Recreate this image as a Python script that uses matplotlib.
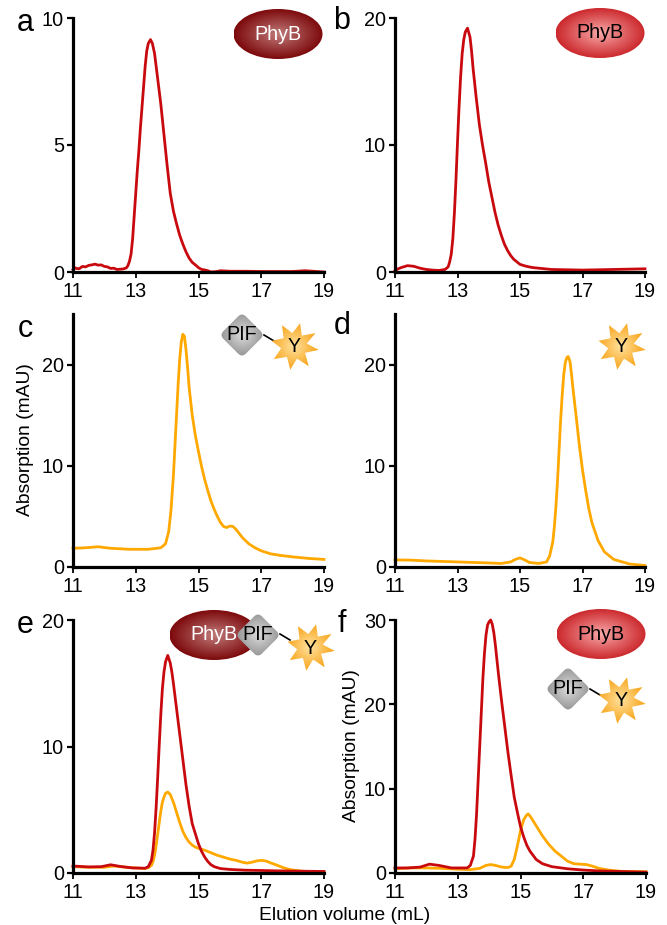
import numpy as np
import matplotlib
matplotlib.use("Agg")
import matplotlib.pyplot as plt
from matplotlib.colors import LinearSegmentedColormap
from matplotlib.patches import Ellipse, Polygon, PathPatch
from matplotlib.path import Path

plt.rcParams['font.family'] = ['Liberation Sans', 'DejaVu Sans']

W, H = 667, 925
RED = '#c80a0f'
ORANGE = '#ffa800'

# panel a
a_x = [11, 11.05, 11.1, 11.2, 11.3, 11.4, 11.5, 11.6, 11.7, 11.8, 11.9, 12.0, 12.1, 12.2, 12.3, 12.4, 12.5, 12.6, 12.7, 12.75, 12.8, 12.85, 12.9, 12.95, 13.0, 13.05, 13.1, 13.15, 13.2, 13.25, 13.3, 13.35, 13.4, 13.47, 13.53, 13.6, 13.65, 13.7, 13.8, 13.9, 14.0, 14.1, 14.2, 14.3, 14.4, 14.5, 14.6, 14.7, 14.8, 14.9, 15.0, 15.1, 15.2, 15.3, 15.4, 15.6, 15.7, 16, 16.5, 17, 17.5, 18, 18.4, 19]
a_y = [0.1, 0.18, 0.14, 0.13, 0.22, 0.2, 0.26, 0.28, 0.31, 0.27, 0.28, 0.22, 0.2, 0.14, 0.15, 0.1, 0.11, 0.12, 0.16, 0.25, 0.42, 0.7, 1.3, 2.2, 3.1, 4.0, 4.8, 5.7, 6.5, 7.3, 8.1, 8.7, 9.0, 9.15, 9.0, 8.6, 8.1, 7.6, 6.6, 5.4, 4.2, 3.1, 2.4, 1.9, 1.45, 1.1, 0.8, 0.55, 0.38, 0.28, 0.17, 0.1, 0.08, 0.05, 0.0, 0.02, 0.05, 0.03, 0.03, 0.02, 0.02, 0.02, 0.05, 0.0]

# panel b
b_x = [11, 11.1, 11.2, 11.4, 11.6, 11.8, 12, 12.2, 12.4, 12.6, 12.7, 12.75, 12.8, 12.85, 12.9, 12.95, 13.0, 13.05, 13.1, 13.15, 13.2, 13.25, 13.32, 13.4, 13.45, 13.5, 13.6, 13.7, 13.8, 13.9, 14.0, 14.1, 14.2, 14.3, 14.4, 14.5, 14.6, 14.7, 14.8, 15.0, 15.2, 15.4, 15.6, 16, 17, 18, 19]
b_y = [0.1, 0.25, 0.35, 0.5, 0.45, 0.3, 0.2, 0.15, 0.12, 0.2, 0.4, 0.8, 1.4, 2.6, 4.6, 7.2, 10.2, 13, 15.4, 17.2, 18.3, 18.9, 19.2, 18.5, 17.4, 16, 13.7, 11.6, 10, 8.6, 7.1, 5.9, 4.7, 3.7, 2.9, 2.2, 1.7, 1.3, 1.0, 0.6, 0.45, 0.35, 0.3, 0.2, 0.15, 0.2, 0.25]

# panel c
c_x = [11, 11.4, 11.8, 12.2, 12.8, 13.4, 13.8, 13.95, 14.05, 14.12, 14.2, 14.25, 14.3, 14.35, 14.4, 14.45, 14.5, 14.55, 14.6, 14.65, 14.7, 14.8, 14.9, 15.0, 15.1, 15.2, 15.3, 15.4, 15.5, 15.6, 15.7, 15.8, 15.9, 16.0, 16.1, 16.2, 16.3, 16.4, 16.6, 16.8, 17.0, 17.3, 17.6, 18, 18.5, 19]
c_y = [1.85, 1.9, 2.0, 1.85, 1.75, 1.75, 1.9, 2.3, 3.5, 5.5, 9, 12, 15, 18, 20.5, 22.2, 23, 22.8, 21.5, 19.8, 17.8, 15, 13, 11.4, 9.9, 8.6, 7.5, 6.5, 5.7, 5.0, 4.4, 4.0, 3.9, 4.05, 4.0, 3.7, 3.3, 2.9, 2.3, 1.9, 1.6, 1.3, 1.15, 1.0, 0.85, 0.75]

# panel d
d_x = [11, 11.5, 12, 12.5, 13, 13.5, 14, 14.4, 14.7, 14.85, 15.0, 15.15, 15.3, 15.6, 15.85, 15.95, 16.05, 16.1, 16.15, 16.2, 16.25, 16.3, 16.35, 16.4, 16.45, 16.5, 16.54, 16.6, 16.65, 16.7, 16.8, 16.9, 17.0, 17.1, 17.2, 17.3, 17.5, 17.7, 18, 18.5, 19]
d_y = [0.7, 0.68, 0.6, 0.55, 0.5, 0.45, 0.4, 0.35, 0.5, 0.75, 0.9, 0.7, 0.45, 0.35, 0.5, 1.1, 2.5, 4, 6, 8.5, 11.5, 14.5, 17, 19, 20.2, 20.7, 20.8, 20.3, 19, 17.5, 14.8, 12, 9.6, 7.6, 5.8, 4.4, 2.6, 1.5, 0.75, 0.3, 0.15]

# panel e
e_red_x = [11, 11.5, 11.9, 12.2, 12.5, 12.9, 13.3, 13.4, 13.5, 13.55, 13.6, 13.65, 13.7, 13.75, 13.8, 13.85, 13.9, 13.95, 14.02, 14.1, 14.15, 14.2, 14.3, 14.4, 14.5, 14.6, 14.7, 14.8, 14.9, 15, 15.1, 15.2, 15.3, 15.4, 15.5, 15.7, 16, 16.5, 17, 17.5, 18, 19]
e_red_y = [0.55, 0.48, 0.5, 0.65, 0.52, 0.4, 0.38, 0.5, 1.0, 1.8, 3.2, 5.2, 7.6, 10.2, 12.6, 14.6, 15.9, 16.7, 17.2, 16.6, 15.9, 15, 13, 11, 9, 7, 5.3, 3.9, 3.1, 2.3, 1.7, 1.25, 0.9, 0.65, 0.5, 0.35, 0.28, 0.22, 0.2, 0.17, 0.15, 0.12]
e_or_x = [11, 11.5, 12, 12.3, 12.7, 13.3, 13.4, 13.5, 13.55, 13.6, 13.65, 13.7, 13.75, 13.8, 13.85, 13.9, 13.95, 14.02, 14.1, 14.2, 14.3, 14.4, 14.5, 14.6, 14.7, 14.8, 14.9, 15.0, 15.2, 15.4, 15.6, 15.8, 16.0, 16.2, 16.4, 16.55, 16.7, 16.85, 17.0, 17.15, 17.3, 17.5, 17.7, 17.9, 18.1, 18.4, 19]
e_or_y = [0.5, 0.45, 0.45, 0.55, 0.45, 0.35, 0.42, 0.6, 0.9, 1.4, 2.2, 3.1, 4.0, 4.9, 5.6, 6.0, 6.3, 6.4, 6.2, 5.6, 4.8, 4.0, 3.3, 2.8, 2.45, 2.2, 2.05, 1.95, 1.8, 1.6, 1.4, 1.25, 1.1, 1.0, 0.85, 0.78, 0.85, 0.95, 1.0, 0.95, 0.8, 0.62, 0.42, 0.28, 0.2, 0.12, 0.08]

# panel f
f_red_x = [11, 11.4, 11.8, 12.1, 12.4, 12.8, 13.3, 13.4, 13.5, 13.55, 13.6, 13.65, 13.7, 13.75, 13.8, 13.85, 13.9, 13.95, 14.0, 14.05, 14.1, 14.15, 14.2, 14.3, 14.4, 14.5, 14.6, 14.7, 14.8, 14.9, 15.0, 15.1, 15.2, 15.3, 15.5, 15.7, 16, 16.5, 17, 17.5, 18, 19]
f_red_y = [0.6, 0.6, 0.7, 1.05, 0.9, 0.6, 0.6, 0.9, 2.0, 4, 7, 11, 15, 19, 23, 26, 28.2, 29.4, 29.8, 30, 29.5, 28.5, 27, 23.5, 20.3, 17.3, 14.3, 11.6, 9, 7.2, 5.5, 4.3, 3.3, 2.6, 1.6, 1.1, 0.75, 0.5, 0.35, 0.25, 0.2, 0.1]
f_or_x = [11, 11.5, 12, 12.5, 13, 13.4, 13.7, 13.9, 14.05, 14.2, 14.4, 14.6, 14.7, 14.8, 14.9, 15.0, 15.1, 15.2, 15.25, 15.35, 15.5, 15.7, 15.9, 16.1, 16.3, 16.5, 16.7, 16.9, 17.1, 17.3, 17.5, 17.8, 18.2, 19]
f_or_y = [0.5, 0.6, 0.6, 0.55, 0.45, 0.4, 0.55, 0.9, 1.0, 0.9, 0.7, 0.65, 0.8, 1.6, 3.2, 5.0, 6.3, 6.9, 7.0, 6.5, 5.6, 4.4, 3.4, 2.6, 2.0, 1.4, 1.1, 1.05, 1.0, 0.8, 0.55, 0.35, 0.2, 0.15]

x_ticks = [11, 13, 15, 17, 19]

fig = plt.figure(figsize=(W / 100, H / 100), dpi=100)


def make_ax(left, right, top, bottom, ymax, yticks):
    ax = fig.add_axes([left / W, 1 - bottom / H, (right - left) / W, (bottom - top) / H])
    ax.set_xlim(11, 19)
    ax.set_ylim(0, ymax)
    ax.set_xticks(x_ticks)
    ax.set_yticks(yticks)
    ax.spines['top'].set_visible(False)
    ax.spines['right'].set_visible(False)
    ax.spines['left'].set_linewidth(2.3)
    ax.spines['bottom'].set_linewidth(2.3)
    ax.tick_params(axis='y', length=4.5, width=1.6, labelsize=14.3, pad=2)
    ax.tick_params(axis='x', length=4, width=1.3, labelsize=14.3, pad=3)
    ax.patch.set_alpha(0)
    return ax


def curve(ax, x, y, color):
    ax.plot(x, y, color=color, lw=2.0, clip_on=False, solid_joinstyle='round')


ax_a = make_ax(73, 324, 18, 272, 10, [0, 5, 10])
curve(ax_a, a_x, a_y, RED)
ax_b = make_ax(395, 645, 18, 272, 20, [0, 10, 20])
curve(ax_b, b_x, b_y, RED)
ax_c = make_ax(73, 324, 314, 567, 25, [0, 10, 20])
curve(ax_c, c_x, c_y, ORANGE)
ax_d = make_ax(395, 645, 314, 567, 25, [0, 10, 20])
curve(ax_d, d_x, d_y, ORANGE)
ax_e = make_ax(73, 324, 620, 873, 20, [0, 10, 20])
curve(ax_e, e_or_x, e_or_y, ORANGE)
curve(ax_e, e_red_x, e_red_y, RED)
ax_f = make_ax(395, 646, 620, 873, 30, [0, 10, 20, 30])
curve(ax_f, f_or_x, f_or_y, ORANGE)
curve(ax_f, f_red_x, f_red_y, RED)


def px_text(x, y, s, **kw):
    fig.text(x / W, 1 - y / H, s, ha='center', va='center', **kw)


for letter, lx, ly in [('a', 25, 23), ('b', 342, 21), ('c', 25, 329), ('d', 342, 326), ('e', 25, 625), ('f', 342, 624)]:
    px_text(lx, ly, letter, fontsize=22)

px_text(26, 440, 'Absorption (mAU)', fontsize=13.9, rotation=90)
px_text(351, 746, 'Absorption (mAU)', fontsize=13.9, rotation=90)
px_text(345, 915, 'Elution volume (mL)', fontsize=13.9)

# schematics drawn over everything, in pixel coordinates
ov = fig.add_axes([0, 0, 1, 1], zorder=10)
ov.set_xlim(0, W)
ov.set_ylim(H, 0)
ov.axis('off')

grid_y, grid_x = np.mgrid[-1:1:120j, -1:1:120j]
radial = np.sqrt(grid_x ** 2 + grid_y ** 2)


def fill_gradient(patch, cx, cy, rx, ry, inner, outer, zorder):
    cmap = LinearSegmentedColormap.from_list('g', [inner, outer])
    ov.add_patch(patch)
    patch.set_zorder(zorder)
    im = ov.imshow(radial, cmap=cmap, vmin=0, vmax=1, extent=(cx - rx, cx + rx, cy + ry, cy - ry),
                   aspect='auto', zorder=zorder, interpolation='bilinear')
    im.set_clip_path(patch)


def phyb(cx, cy, dark):
    inner, outer, col = ('#c07a7a', '#7d0a0c', 'white') if dark else ('#f8a8a8', '#cc2a2e', 'black')
    fill_gradient(Ellipse((cx, cy), 89, 50, fc='none', ec='none'), cx, cy, 44.5, 25, inner, outer, 11)
    ov.text(cx, cy, 'PhyB', color=col, ha='center', va='center', fontsize=14.2, zorder=12)


def pif(cx, cy):
    r = 22.5
    c = 4
    pts = []
    codes = []
    corners = [(0, -r), (r, 0), (0, r), (-r, 0)]
    for i, (px, py) in enumerate(corners):
        prev = corners[i - 1]
        nxt = corners[(i + 1) % 4]
        d = r * np.sqrt(2)
        start = (px + (prev[0] - px) * c * 1.4 / d, py + (prev[1] - py) * c * 1.4 / d)
        end = (px + (nxt[0] - px) * c * 1.4 / d, py + (nxt[1] - py) * c * 1.4 / d)
        pts += [start, (px, py), end]
        codes += [Path.MOVETO if i == 0 else Path.LINETO, Path.CURVE3, Path.CURVE3]
    pts.append(pts[0])
    codes.append(Path.CLOSEPOLY)
    path = Path(np.array(pts) + [cx, cy], codes)
    fill_gradient(PathPatch(path, fc='none', ec='none'), cx, cy, r, r, '#dcdcdc', '#939393', 13)
    ov.text(cx, cy, 'PIF', color='black', ha='center', va='center', fontsize=14.2, zorder=14)


star_angles = [-75, -31, 9, 54, 99, 147, 193, 240]
star_radii = [23.5, 25, 25, 25, 24, 24, 23, 24]


def star(cx, cy):
    pts = []
    for i, ang in enumerate(star_angles):
        a = np.deg2rad(ang)
        pts.append((cx + star_radii[i] * np.cos(a), cy + star_radii[i] * np.sin(a)))
        nxt = star_angles[(i + 1) % len(star_angles)] + (360 if i == len(star_angles) - 1 else 0)
        m = np.deg2rad((ang + nxt) / 2)
        pts.append((cx + 13 * np.cos(m), cy + 13 * np.sin(m)))
    fill_gradient(Polygon(pts, closed=True, fc='none', ec='none'), cx, cy, 26, 26, '#ffe2a0', '#f8a010', 13)
    ov.text(cx, cy + 1, 'Y', color='black', ha='center', va='center', fontsize=14.2, zorder=14)


def link(x0, y0, x1, y1):
    ov.plot([x0, x1], [y0, y1], color='black', lw=1.2, zorder=12)


phyb(278, 34, True)
phyb(600, 33, False)
link(264, 335, 274, 341)
pif(242, 335)
star(294, 346)
star(621, 346)
phyb(214, 635, True)
link(280, 634, 290, 640)
pif(258, 635)
star(310, 647)
phyb(601, 634, False)
link(590, 689, 600, 695)
pif(568, 689)
star(621, 700)

ov.set_xlim(0, W)
ov.set_ylim(H, 0)

fig.savefig('out.png', dpi=100)
